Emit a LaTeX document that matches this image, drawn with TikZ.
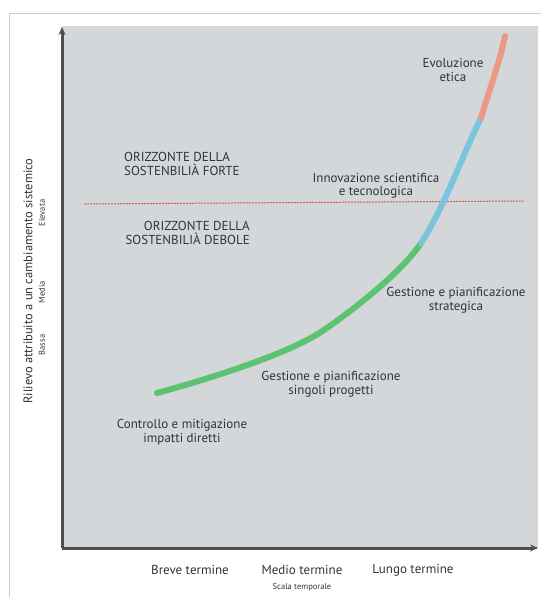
\documentclass[tikz,border=0pt]{standalone}
\usepackage{fontspec}
\setmainfont{PT Sans}
\usetikzlibrary{arrows.meta}

\definecolor{panelgray}{RGB}{211,215,218}
\definecolor{axisgray}{RGB}{75,80,84}
\definecolor{curvegreen}{RGB}{92,196,112}
\definecolor{curveblue}{RGB}{122,196,222}
\definecolor{curvesalmon}{RGB}{236,152,132}
\definecolor{horizonred}{RGB}{214,92,92}
\definecolor{labelgray}{RGB}{50,52,55}

\tikzset{
	lbl/.style={text=labelgray, font=\fontsize{13}{13.5}\selectfont, align=center, inner sep=0pt},
	tick/.style={text=labelgray, font=\fontsize{8.5}{9}\selectfont, inner sep=0pt},
	curve/.style={line width=6pt, line cap=round},
}

\begin{document}
\begin{tikzpicture}[x=1pt, y=-1pt, >={Stealth[length=8pt,width=7pt]}]
	\useasboundingbox (0,0) rectangle (541,597);
	\coordinate[](origin) at (62,548) ;
	\coordinate[](ytop) at (62,27) ;
	\coordinate[](xend) at (538,548) ;
	\coordinate[](hleft) at (84,204) ;
	\coordinate[](hright) at (524,201) ;
	\coordinate[](gstart) at (157,393) ;
	\coordinate[](gmid) at (324,330) ;
	\coordinate[](gb) at (421,243) ;
	\coordinate[](bs) at (481,118) ;
	\coordinate[](stop) at (505,36) ;
	
	\draw[black!20, line width=1pt] (9,597) -- (9,13) -- (541,13);
	\fill[panelgray] (62,26) rectangle (538,548);
	
	\draw[->, axisgray, line width=3pt] (origin) -- (ytop);
	\draw[->, axisgray, line width=3pt] (origin) -- (xend);
	
	\draw[horizonred, line width=1pt, dash pattern=on 2pt off 1pt] (hleft) -- (hright);
	
	% curve
	\draw[curve, curvegreen] (gstart) .. controls (212,378) and (291,353) .. (gmid)
		.. controls (353,310) and (402,272) .. (gb);
	\draw[curve, curveblue] (gb) .. controls (443,210) and (463,154) .. (bs);
	\draw[curve, curvesalmon] (bs) .. controls (489,91) and (500,61) .. (stop);
	
	\node[lbl] (evo) at (453,70) {Evoluzione\\etica};
	\node[lbl, align=left, anchor=west] (forte) at (124,164) {ORIZZONTE DELLA\\SOSTENBILIÀ FORTE};
	\node[lbl, align=right, anchor=east] (debole) at (250,233) {ORIZZONTE DELLA\\SOSTENBILIÀ DEBOLE};
	\node[lbl] (innov) at (376,186) {Innovazione scientifica\\e tecnologica};
	\node[lbl] (strat) at (456,300) {Gestione e pianificazione\\strategica};
	\node[lbl] (singoli) at (331,384) {Gestione e pianificazione\\singoli progetti};
	\node[lbl] (controllo) at (182,432) {Controllo e mitigazione\\impatti diretti};
	
	\node[lbl] (breve) at (190,570) {Breve termine};
	\node[lbl] (medio) at (302,570) {Medio termine};
	\node[lbl] (lungo) at (413,570) {Lungo termine};
	\node[tick] (scala) at (302,587) {Scala temporale};
	
	\node[lbl, font=\fontsize{12.5}{13}\selectfont, rotate=90] (rilievo) at (28,281) {Rilievo attribuito a un cambiamento sistemico};
	\node[tick, rotate=90] (elevata) at (42,213) {Elevata};
	\node[tick, rotate=90] (media) at (42,292) {Media};
	\node[tick, rotate=90] (bassa) at (42,345) {Bassa};
\end{tikzpicture}
\end{document}
